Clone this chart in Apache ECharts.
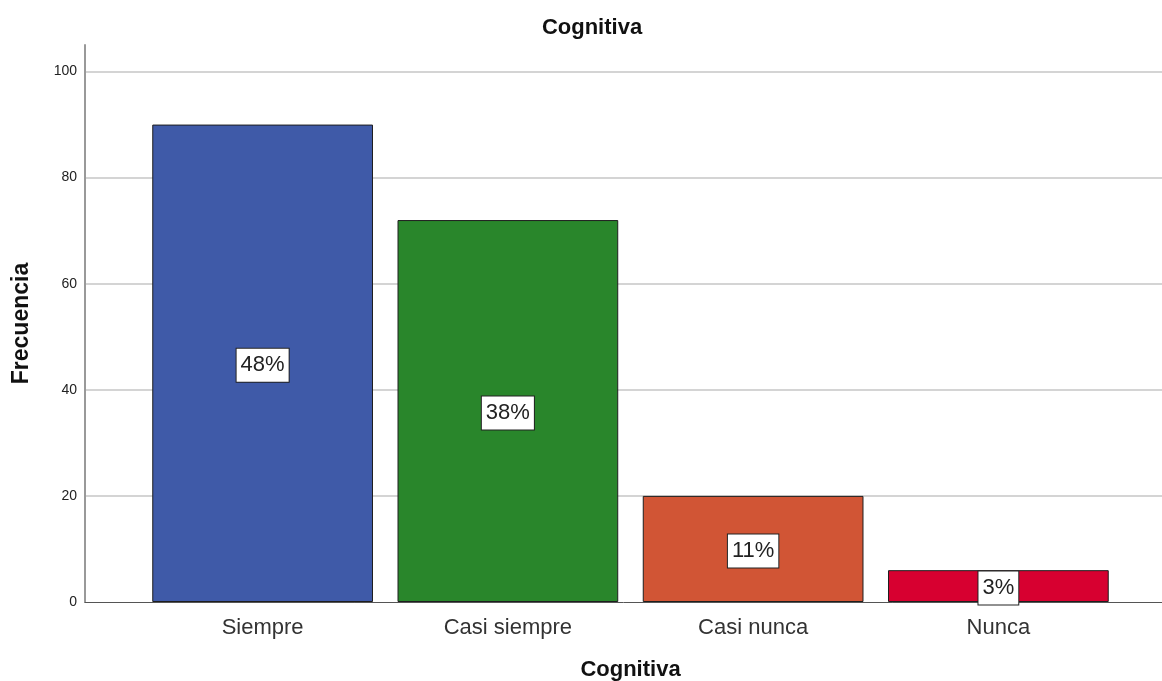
<!DOCTYPE html>
<html>
<head>
<meta charset="utf-8">
<script src="https://cdn.jsdelivr.net/npm/echarts@6/dist/echarts.min.js"></script>
<style>
  html, body { margin: 0; padding: 0; background: #fff; }
  #chart { width: 1162px; height: 681px; }
</style>
</head>
<body>
<div id="chart"></div>
<script>
// Frequency counts per response category
const categories = ['Siempre', 'Casi siempre', 'Casi nunca', 'Nunca'];
const counts = [90, 72, 20, 6];
const barColors = ['#3F5AA8', '#29862B', '#D15535', '#D70030'];
const yTicks = { min: 0, max: 105, interval: 20 };

const total = counts.reduce((a, b) => a + b, 0);
const FONT = '"Liberation Sans", Arial, sans-serif';

const chart = echarts.init(document.getElementById('chart'), null, { renderer: 'canvas' });

chart.setOption({
  animation: false,
  backgroundColor: '#ffffff',
  title: {
    text: 'Cognitiva',
    left: 587,
    top: 12,
    textAlign: 'center',
    textStyle: { fontFamily: FONT, fontSize: 22, fontWeight: 'bold', color: '#111' }
  },
  grid: [
    // frame grid: y axis, gridlines and baseline across the full plot width
    { left: 85, right: 0, top: 45, bottom: 79, outerBoundsMode: 'none' },
    // bar grid: category bands
    { left: 140, right: 41, top: 45, bottom: 79, outerBoundsMode: 'none' }
  ],
  xAxis: [
    {
      gridIndex: 0, type: 'value', min: 0, max: 1,
      axisLine: { show: true, onZero: false, lineStyle: { color: '#555', width: 1 } },
      axisTick: { show: false }, axisLabel: { show: false }, splitLine: { show: false }
    },
    {
      gridIndex: 1, type: 'category', data: categories,
      axisLine: { show: false }, axisTick: { show: false },
      axisLabel: { margin: 15, fontFamily: FONT, fontSize: 22, color: '#333' },
      name: 'Cognitiva', nameLocation: 'middle', nameGap: 57,
      nameTextStyle: { fontFamily: FONT, fontSize: 22, fontWeight: 'bold', color: '#111' }
    }
  ],
  yAxis: [
    {
      gridIndex: 0, type: 'value', min: yTicks.min, max: yTicks.max, interval: yTicks.interval,
      axisLine: { show: true, lineStyle: { color: '#999', width: 2 } },
      axisTick: { show: false },
      axisLabel: { margin: 8, fontFamily: FONT, fontSize: 14, color: '#222', showMaxLabel: false },
      splitLine: { show: true, showMaxLine: false, showMinLine: false, lineStyle: { color: '#d4d4d4', width: 2 } },
      name: 'Frecuencia', nameLocation: 'middle', nameGap: 52, nameRotate: 90,
      nameTextStyle: { fontFamily: FONT, fontSize: 23, fontWeight: 'bold', color: '#111' }
    },
    {
      gridIndex: 1, type: 'value', min: yTicks.min, max: yTicks.max, interval: yTicks.interval,
      show: false, splitLine: { show: false }
    }
  ],
  series: [
    {
      type: 'bar',
      xAxisIndex: 1, yAxisIndex: 1,
      barCategoryGap: '10%',
      data: counts.map((v, i) => ({
        value: v,
        itemStyle: { color: barColors[i], borderColor: '#1e1e1e', borderWidth: 1 }
      })),
      label: {
        show: true,
        position: 'inside',
        offset: [0, 2],
        formatter: p => Math.round(p.value / total * 100) + '%',
        fontFamily: FONT, fontSize: 22, color: '#222',
        backgroundColor: '#ffffff',
        borderColor: '#222', borderWidth: 1,
        padding: [6, 4, 5, 4]
      }
    }
  ]
});
</script>
</body>
</html>
